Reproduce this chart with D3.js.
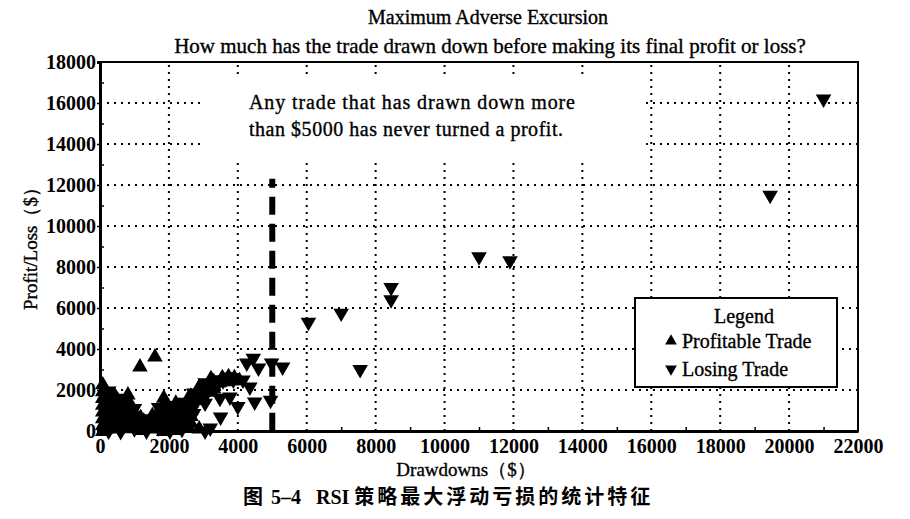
<!DOCTYPE html>
<html>
<head>
<meta charset="utf-8">
<script src="https://cdn.jsdelivr.net/npm/d3@7"></script>
<style>
  body { margin: 0; background: #fff; }
  svg text { font-family: "Liberation Serif", "Times New Roman", serif; fill: #000; }
  .heavy { stroke: #000; stroke-width: 0.35px; }
  .cjk { font-family: "Noto Sans CJK SC", sans-serif; font-weight: bold; }
  .serifb { font-family: "Liberation Serif", serif; font-weight: bold; }
</style>
</head>
<body>
<div id="chart"></div>
<script>
// ---- data: [drawdown $, profit/loss $] ----
const profitable = [
  [80, 2250], [80, 1920], [80, 1590], [80, 1260], [80, 930], [80, 600], [80, 270], [80, -30],
  [165, 1750], [165, 1420], [165, 1090], [165, 760], [165, 430], [165, 100],
  [420, 1750], [420, 1420], [420, 1090], [420, 760], [420, 430], [420, 100],
  [510, 1500], [510, 1170], [510, 840], [510, 510], [510, 180],
  [810, 1760], [810, 1430], [810, 1100], [810, 770], [810, 440], [810, 110],
  [900, 1250], [900, 920], [900, 590], [900, 260],
  [1180, 650], [1180, 330], [1180, 20],
  [1270, 480], [1270, 150],
  [1520, 750], [1520, 420], [1520, 100],
  [1610, 600], [1610, 270],
  [1850, 1600], [1850, 1250], [1850, 920], [1850, 590], [1850, 260], [1850, -30],
  [1940, 1100], [1940, 770], [1940, 440], [1940, 110],
  [2200, 1350], [2200, 1020], [2200, 690], [2200, 360], [2200, 30],
  [2290, 1200], [2290, 870], [2290, 540], [2290, 210],
  [2550, 1550], [2550, 1220], [2550, 890], [2550, 560], [2550, 230],
  [2640, 1700], [2640, 1370], [2640, 1040], [2640, 710], [2640, 380],
  [2880, 2150], [2880, 1820], [2880, 1490], [2880, 100],
  [2970, 2000], [2970, 1670],
  [3220, 2550], [3220, 2220], [3220, 1890],
  [3300, 2400], [3300, 2050], [3470, 2350],
  [3550, 2600], [3650, 2400], [3730, 2650], [3820, 2450], [3900, 2600], [4050, 2450],
  [1160, 3120], [1594, 3610]
];

const losing = [
  [250, 1950], [250, 1620], [250, 1290], [250, 960], [250, 630], [250, 300], [250, 0],
  [600, 1600], [600, 1270], [600, 940], [600, 610], [600, 280], [600, -30],
  [1000, 1100], [1000, 770], [1000, 440], [1000, 110],
  [1350, 600], [1350, 300], [1350, 0],
  [1700, 1150], [1700, 820], [1700, 490], [1700, 160],
  [2030, 1250], [2030, 920], [2030, 590], [2030, 260], [2030, 0],
  [2380, 1400], [2380, 1070], [2380, 740], [2380, 410], [2380, 80],
  [2720, 1850], [2720, 1520], [2720, 1190], [2720, 860],
  [3050, 2350], [3050, 2020], [3050, 1690], [3050, 1360], [3050, 0], [3200, 150],
  [3380, 2500], [3380, 2170],
  [3570, 2450], [3870, 2490], [4150, 2490], [3710, 2630],
  [3480, 1600], [3770, 1660], [4000, 1200], [3500, 680], [4350, 2150], [4490, 1420],
  [4450, 3550], [4260, 3320], [4600, 3070], [4980, 3320], [5300, 3120], [4950, 1500],
  [6050, 5300], [7000, 5750], [7550, 3000],
  [8450, 7000], [8450, 6400],
  [11000, 8500], [11900, 8300],
  [19450, 11500], [21000, 16200]
];

const xTicks = d3.range(0, 22001, 2000);
const yTicks = d3.range(0, 18001, 2000);
const minorX = d3.range(1000, 22000, 2000);
const minorY = d3.range(1000, 18000, 2000);

// dashed $5000 threshold line
const threshold = 5000;
const thresholdTop = 12300;

const titleText = "Maximum Adverse Excursion";
const subtitleText = "How much has the trade drawn down before making its final profit or loss?";
const noteLines = ["Any trade that has drawn down more", "than $5000 has never turned a profit."];
const legendItems = [
  { label: "Profitable Trade", down: false },
  { label: "Losing Trade", down: true }
];
const captionParts = [
  { t: "图", cls: "cjk" },
  { t: " 5–4\u00a0\u00a0\u00a0RSI ", cls: "serifb" },
  { t: "策略最大浮动亏损的统计特征", cls: "cjk" }
];

// ---- layout ----
const W = 910, H = 519;
const margin = { top: 62, right: 52, bottom: 88, left: 100 };
const innerW = W - margin.left - margin.right;
const innerH = H - margin.top - margin.bottom;

const svg = d3.select("#chart").append("svg")
    .attr("width", W)
    .attr("height", H);

svg.append("rect").attr("width", W).attr("height", H).attr("fill", "#fff");

const g = svg.append("g")
    .attr("transform", "translate(" + margin.left + "," + margin.top + ")");

const x = d3.scaleLinear().domain([0, 22000]).range([0, innerW]);
const y = d3.scaleLinear().domain([0, 18000]).range([innerH, 0]);

// dotted grid
g.append("g").selectAll("line.h")
    .data(yTicks.filter(d => d > 0 && d < 18000))
    .enter().append("line")
    .attr("x1", 0).attr("x2", innerW)
    .attr("y1", d => y(d)).attr("y2", d => y(d))
    .attr("stroke", "#000").attr("stroke-width", 2)
    .attr("stroke-dasharray", "2,5");

g.append("g").selectAll("line.v")
    .data(xTicks.filter(d => d > 0 && d < 22000))
    .enter().append("line")
    .attr("x1", d => x(d)).attr("x2", d => x(d))
    .attr("y1", innerH).attr("y2", 0)
    .attr("stroke", "#000").attr("stroke-width", 2)
    .attr("stroke-dasharray", "2,5");

// blank out the grid behind the note
g.append("rect")
    .attr("x", 100).attr("y", 15)
    .attr("width", 445).attr("height", 86)
    .attr("fill", "#fff");

// note text
const note = g.append("g").attr("class", "heavy").style("font-size", "20px");
note.selectAll("text")
    .data(noteLines)
    .enter().append("text")
    .attr("x", 149)
    .attr("y", (d, i) => 47 + i * 27)
    .attr("textLength", (d, i) => i === 0 ? 326 : 314)
    .attr("lengthAdjust", "spacing")
    .text(d => d);

// threshold line
g.append("line")
    .attr("x1", x(threshold)).attr("x2", x(threshold))
    .attr("y1", y(thresholdTop)).attr("y2", y(0))
    .attr("stroke", "#000").attr("stroke-width", 6)
    .attr("stroke-dasharray", "18,9")
    .attr("stroke-dashoffset", 9);

// marks
const tri = d3.symbol().type(d3.symbolTriangle).size(105);

g.append("g").selectAll("path")
    .data(profitable)
    .enter().append("path")
    .attr("d", tri)
    .attr("transform", d => "translate(" + x(d[0]) + "," + y(d[1]) + ")")
    .attr("fill", "#000");

g.append("g").selectAll("path")
    .data(losing)
    .enter().append("path")
    .attr("d", tri)
    .attr("transform", d => "translate(" + x(d[0]) + "," + y(d[1]) + ") rotate(180)")
    .attr("fill", "#000");

// frame (top/right thinner)
g.append("rect")
    .attr("width", innerW).attr("height", innerH)
    .attr("fill", "none").attr("stroke", "#000").attr("stroke-width", 2);

// axes
const xAxis = g.append("g")
    .attr("transform", "translate(0," + innerH + ")")
    .call(d3.axisBottom(x).tickValues(xTicks).tickSize(0).tickPadding(8).tickFormat(d3.format("d")));
const yAxis = g.append("g")
    .call(d3.axisLeft(y).tickValues(yTicks).tickSize(3).tickPadding(1).tickFormat(d3.format("d")));

g.append("g")
    .attr("transform", "translate(0," + innerH + ")")
    .call(d3.axisBottom(x).tickValues(minorX).tickSize(-4).tickFormat(""))
    .select(".domain").remove();
g.append("g")
    .call(d3.axisLeft(y).tickValues(minorY).tickSize(-4).tickFormat(""))
    .select(".domain").remove();

[xAxis, yAxis].forEach(a => {
  a.select(".domain").attr("stroke-width", 3);
  a.selectAll("text")
      .style("font-family", "'Liberation Serif', serif")
      .style("font-weight", "bold")
      .style("font-size", "20px");
});
g.selectAll(".tick line").attr("stroke-width", 1.5);

// titles
svg.append("text").attr("class", "heavy")
    .attr("x", 488).attr("y", 24)
    .attr("text-anchor", "middle").style("font-size", "20px")
    .text(titleText);
svg.append("text").attr("class", "heavy")
    .attr("x", 490).attr("y", 53)
    .attr("text-anchor", "middle").style("font-size", "21px")
    .text(subtitleText);

// axis titles
svg.append("text").attr("class", "heavy")
    .attr("transform", "translate(37,244) rotate(-90)")
    .attr("text-anchor", "middle").style("font-size", "19px")
    .text("Profit/Loss（$）");
svg.append("text").attr("class", "heavy")
    .attr("x", 466).attr("y", 476)
    .attr("text-anchor", "middle").style("font-size", "19px")
    .text("Drawdowns（$）");

// legend
const lg = svg.append("g").attr("transform", "translate(635,298)");
lg.append("rect")
    .attr("width", 202).attr("height", 89)
    .attr("fill", "#fff").attr("stroke", "#000").attr("stroke-width", 2);
lg.append("text").attr("class", "heavy")
    .attr("x", 109).attr("y", 25)
    .attr("text-anchor", "middle").style("font-size", "20px")
    .text("Legend");
const items = lg.selectAll("g.item")
    .data(legendItems)
    .enter().append("g")
    .attr("transform", (d, i) => "translate(36," + (43 + i * 28) + ")");
items.append("path")
    .attr("d", d3.symbol().type(d3.symbolTriangle).size(60))
    .attr("transform", d => d.down ? "rotate(180)" : null)
    .attr("fill", "#000");
items.append("text").attr("class", "heavy")
    .attr("x", 11).attr("y", 7)
    .style("font-size", "20px")
    .text(d => d.label);

// figure caption
const cap = svg.append("text")
    .attr("x", 243).attr("y", 504)
    .style("font-size", "20px");
cap.selectAll("tspan")
    .data(captionParts)
    .enter().append("tspan")
    .attr("class", d => d.cls)
    .style("letter-spacing", d => d.cls === "cjk" ? "3px" : null)
    .text(d => d.t);
</script>
</body>
</html>
